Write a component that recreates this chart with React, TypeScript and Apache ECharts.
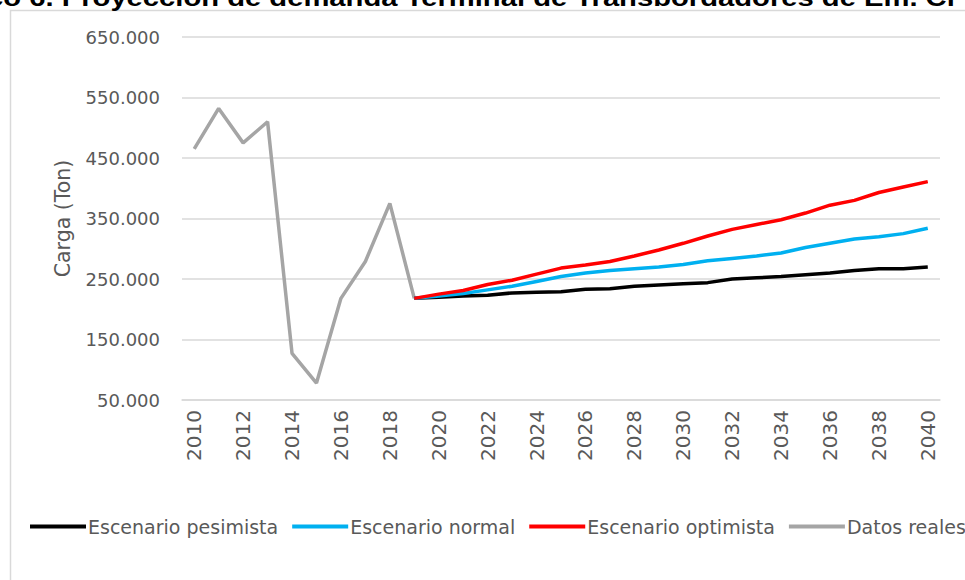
import React, { useEffect, useRef } from "react";
import * as echarts from "echarts";

const years = [
  "2010","2011","2012","2013","2014","2015","2016","2017","2018","2019",
  "2020","2021","2022","2023","2024","2025","2026","2027","2028","2029",
  "2030","2031","2032","2033","2034","2035","2036","2037","2038","2039","2040",
];

const datosReales = [465000, 532000, 475000, 510000, 127000, 78000, 218000, 279000, 375000, 218000];

const pesimista = [218000, 220000, 222000, 223000, 227000, 228000, 229000, 233000, 234000, 238000, 240000,
  242000, 244000, 250000, 252000, 254000, 257000, 260000, 264000, 267000, 267000, 270000];
const normal = [218000, 222000, 226000, 232000, 238000, 246000, 254000, 260000, 264000, 267000, 270000,
  274000, 280000, 284000, 288000, 293000, 302000, 309000, 316000, 320000, 325000, 334000];
const optimista = [218000, 225000, 231000, 241000, 248000, 258000, 268000, 273000, 279000, 288000, 298000,
  309000, 321000, 332000, 340000, 348000, 359000, 372000, 380000, 393000, 402000, 411000];

const yTicks = { min: 50000, max: 650000, interval: 100000 };

const pad = (arr: number[], before: number) =>
  [...Array(before).fill(null), ...arr, ...Array(Math.max(0, years.length - before - arr.length)).fill(null)];

const fmt = (v: number) => String(v).replace(/\B(?=(\d{3})+(?!\d))/g, ".");

export default function App() {
  const ref = useRef<HTMLDivElement>(null);
  useEffect(() => {
    if (!ref.current) return;
    const chart = echarts.init(ref.current, null, { renderer: "svg" });
    const font = "'DejaVu Sans', sans-serif";
    chart.setOption({
      animation: false,
      backgroundColor: "#fff",
      graphic: [
        {
          type: "rect",
          shape: { x: 10.5, y: 10.5, width: 1000, height: 600 },
          style: { fill: "none", stroke: "#D9D9D9", lineWidth: 1.5 },
          silent: true,
        },
        {
          type: "text",
          x: -81,
          y: 10,
          scaleX: 1.27,
          style: {
            text: "Gráfico 6. Proyección de demanda Terminal de Transbordadores de Em. Cr",
            font: "bold 23px 'Liberation Sans', Arial, sans-serif",
            fill: "#000",
            textVerticalAlign: "bottom",
          },
        },
      ],
      grid: { left: 182, right: 25, top: 37, bottom: 180, containLabel: false },
      legend: {
        left: 25,
        top: 512,
        width: 1300,
        itemWidth: 56,
        itemHeight: 4,
        itemGap: 14,
        icon: "rect",
        textStyle: { color: "#595959", fontSize: 19, fontFamily: font, padding: [0, 0, 0, -3] },
        data: ["Escenario pesimista", "Escenario normal", "Escenario optimista", "Datos reales"],
      },
      xAxis: {
        type: "category",
        data: years,
        boundaryGap: true,
        axisLine: { lineStyle: { color: "#D9D9D9", width: 1.5 } },
        axisTick: { show: false },
        axisLabel: {
          interval: 1,
          rotate: 90,
          color: "#595959",
          fontSize: 20,
          fontFamily: font,
          margin: 10,
        },
      },
      yAxis: {
        type: "value",
        min: yTicks.min,
        max: yTicks.max,
        interval: yTicks.interval,
        name: "Carga (Ton)",
        nameLocation: "middle",
        nameGap: 109,
        nameTextStyle: { color: "#595959", fontSize: 20.5, fontFamily: font },
        axisLine: { show: false },
        axisTick: { show: false },
        splitLine: { lineStyle: { color: "#D9D9D9", width: 1.5 } },
        axisLabel: {
          color: "#595959",
          fontSize: 18,
          fontFamily: font,
          margin: 22,
          formatter: (v: number) => fmt(v),
        },
      },
      series: [
        {
          name: "Escenario pesimista",
          type: "line",
          data: pad(pesimista, 9),
          showSymbol: false,
          symbol: "none",
          lineStyle: { color: "#000000", width: 3.5 },
          itemStyle: { color: "#000000" },
        },
        {
          name: "Escenario normal",
          type: "line",
          data: pad(normal, 9),
          showSymbol: false,
          symbol: "none",
          lineStyle: { color: "#00B0F0", width: 3.5 },
          itemStyle: { color: "#00B0F0" },
        },
        {
          name: "Escenario optimista",
          type: "line",
          data: pad(optimista, 9),
          showSymbol: false,
          symbol: "none",
          lineStyle: { color: "#FF0000", width: 3.5 },
          itemStyle: { color: "#FF0000" },
        },
        {
          name: "Datos reales",
          type: "line",
          data: pad(datosReales, 0),
          showSymbol: false,
          symbol: "none",
          lineStyle: { color: "#A5A5A5", width: 3.5 },
          itemStyle: { color: "#A5A5A5" },
          z: 1,
        },
      ],
    });
    return () => chart.dispose();
  }, []);
  return <div ref={ref} style={{ width: 965, height: 580, position: "fixed", left: 0, top: 0 }} />;
}
